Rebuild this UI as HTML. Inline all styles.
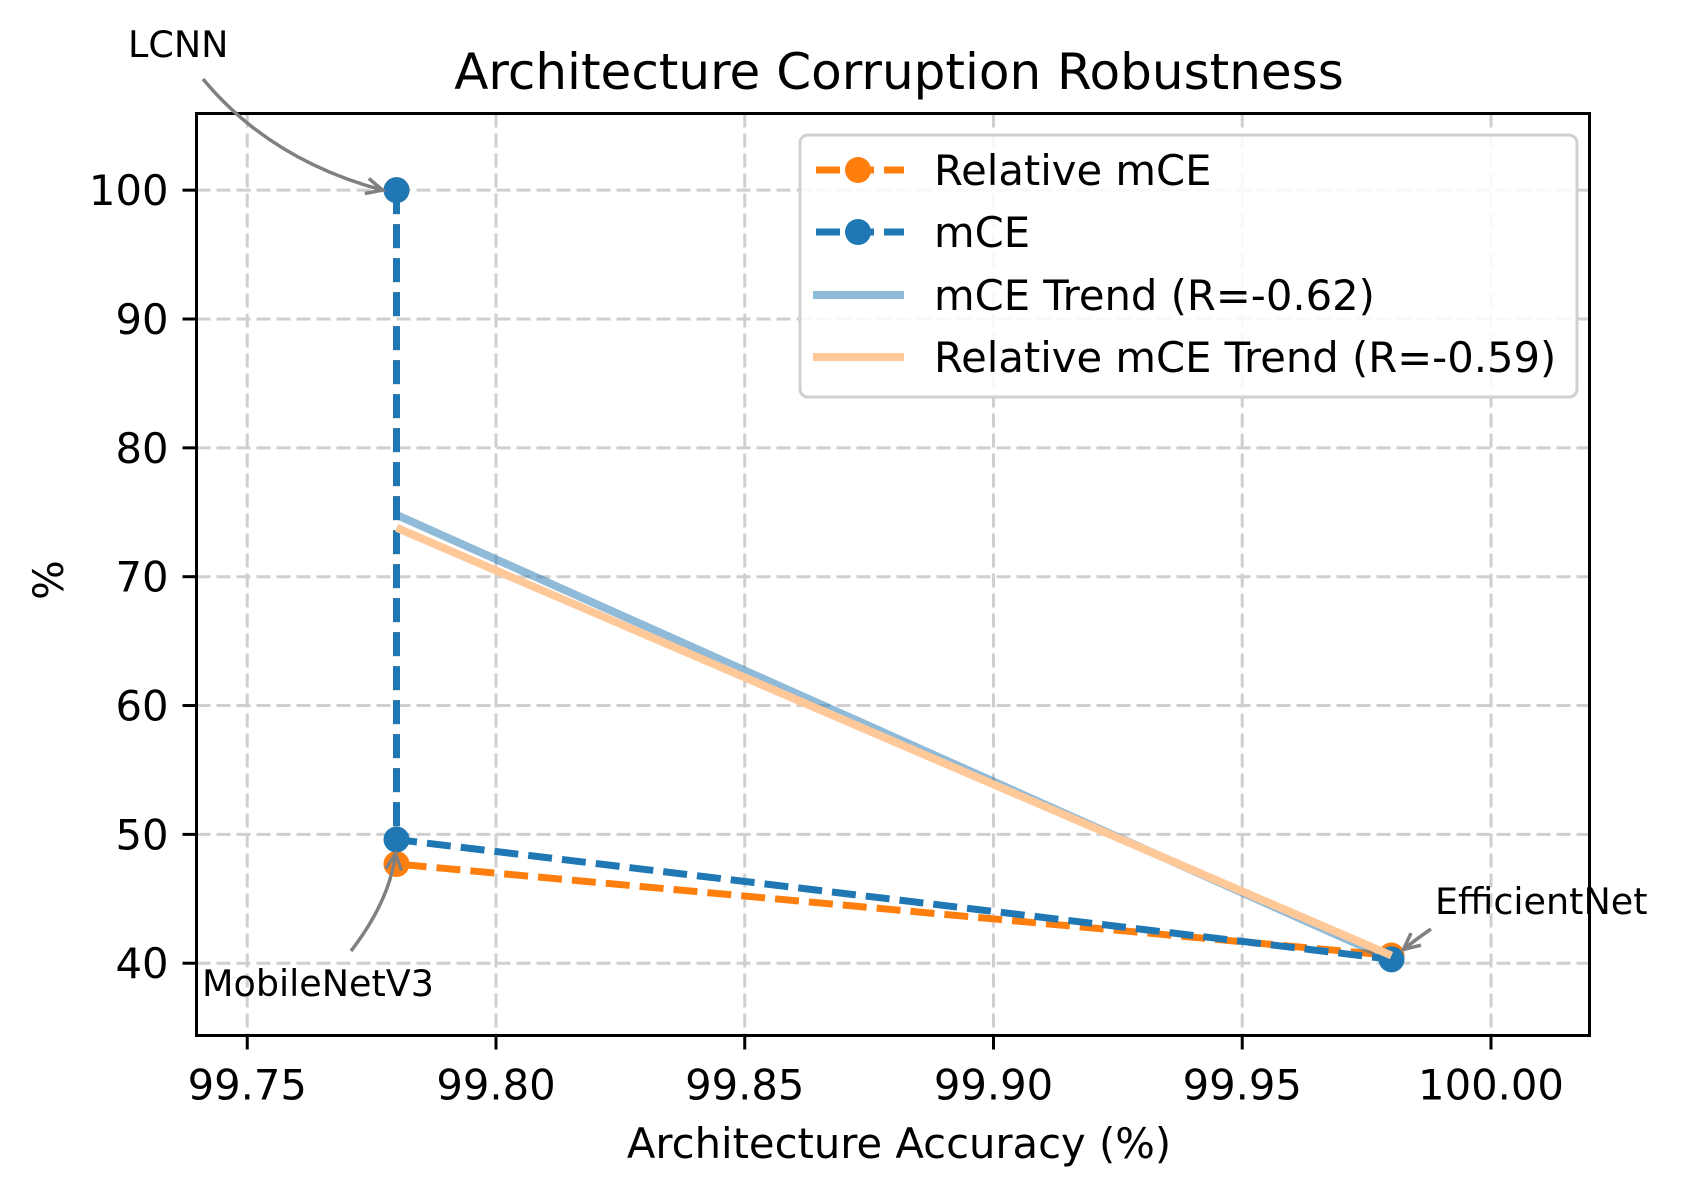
<!DOCTYPE html>
<html><head><meta charset="utf-8"><style>
html,body{margin:0;padding:0;background:#fff;}
svg{display:block;font-family:"DejaVu Sans","Liberation Sans",sans-serif;}
</style></head><body>
<svg id="chart" width="1683" height="1197" viewBox="0 0 1683 1197" xmlns="http://www.w3.org/2000/svg">
<rect width="1683" height="1197" fill="#fff"/>
<g id="grid"></g>
<g id="series"></g>
<rect x="196.5" y="113.5" width="1393" height="922" fill="none" stroke="#000" stroke-width="3"/>
<g id="ticks"></g>
<text x="899" y="89" font-size="50" text-anchor="middle">Architecture Corruption Robustness</text>
<text x="899" y="1158" font-size="41.7" text-anchor="middle">Architecture Accuracy (%)</text>
<text transform="translate(63,580) rotate(-90)" font-size="41.7" text-anchor="middle">%</text>
<g id="annotations"></g>
<g id="legend">
<rect x="800" y="135" width="777" height="262" rx="8" fill="#fff" fill-opacity="0.85" stroke="#d0d0d0" stroke-width="3"/>
<g>
<line x1="813" y1="170" x2="904" y2="170" stroke="#ff7f0e" stroke-width="7" stroke-dasharray="24,10" stroke-dashoffset="-3"/>
<circle cx="858" cy="170" r="13" fill="#ff7f0e"/>
<text x="934" y="185" font-size="41.7">Relative mCE</text></g>
<g>
<line x1="813" y1="232" x2="904" y2="232" stroke="#1f77b4" stroke-width="7" stroke-dasharray="24,10" stroke-dashoffset="-3"/>
<circle cx="858" cy="232" r="13" fill="#1f77b4"/>
<text x="934" y="247" font-size="41.7">mCE</text></g>
<g>
<line x1="813" y1="295" x2="904" y2="295" stroke="#8fbbda" stroke-width="8"/>
<text x="934" y="310" font-size="41.7">mCE Trend (R=-0.62)</text></g>
<g>
<line x1="813" y1="357" x2="904" y2="357" stroke="#ffc899" stroke-width="8"/>
<text x="934" y="372" font-size="41.7">Relative mCE Trend (R=-0.59)</text></g>
</g>
</svg>
<script>
const xCategories = [99.78, 99.78, 99.98];
const modelNames = ["LCNN", "MobileNetV3", "EfficientNet"];
const mceValues = [100, 49.6, 40.3];
const relMceValues = [100, 47.7, 40.6];
const trendX = [99.78, 99.98];
const mceTrend = [74.8, 40.3];
const relMceTrend = [73.8, 40.6];
const xTicks = [99.75, 99.80, 99.85, 99.90, 99.95, 100.00];
const xTickLabels = ["99.75", "99.80", "99.85", "99.90", "99.95", "100.00"];
const yTicks = [40, 50, 60, 70, 80, 90, 100];
const yTickLabels = ["40", "50", "60", "70", "80", "90", "100"];

const NS = "http://www.w3.org/2000/svg";
const L = 196.5, R = 1589.5, T = 113.5, B = 1035.5;
const X0 = 99.7398, X1 = 100.0198, Y0 = 34.39, Y1 = 105.95;
function sx(v){ return L + (v - X0) / (X1 - X0) * (R - L); }
function sy(v){ return B - (v - Y0) / (Y1 - Y0) * (B - T); }
function mk(tag, attrs, parent){ const e = document.createElementNS(NS, tag); for (const k in attrs) e.setAttribute(k, attrs[k]); parent.appendChild(e); return e; }

const grid = document.getElementById('grid');
const ticks = document.getElementById('ticks');
xTicks.forEach((v, i) => {
  const g = mk('line', {x1: sx(v), x2: sx(v), y1: T, y2: B, stroke: '#cfcfcf', 'stroke-width': 3, 'stroke-dasharray': '14,6'}, grid);
  
  
  const t = mk('line', {x1: sx(v), x2: sx(v), y1: B, y2: B + 14, stroke: '#000', 'stroke-width': 3}, ticks);
  
  
  const lb = mk('text', {x: sx(v), y: B + 64, 'font-size': 41.7, 'text-anchor': 'middle'}, ticks);
  lb.textContent = xTickLabels[i];
  
  
});
yTicks.forEach((v, i) => {
  const g = mk('line', {x1: L, x2: R, y1: sy(v), y2: sy(v), stroke: '#cfcfcf', 'stroke-width': 3, 'stroke-dasharray': '14,6'}, grid);
  
  
  const t = mk('line', {x1: L - 14, x2: L, y1: sy(v), y2: sy(v), stroke: '#000', 'stroke-width': 3}, ticks);
  
  
  const lb = mk('text', {x: L - 28, y: sy(v) + 15, 'font-size': 41.7, 'text-anchor': 'end'}, ticks);
  lb.textContent = yTickLabels[i];
  
  
});

const series = document.getElementById('series');
function pts(xs, ys){ return xs.map((x, i) => sx(x) + ',' + sy(ys[i])).join(' '); }
function dashedSeries(ys, color, name){
  const pl = mk('polyline', {points: pts(xCategories, ys), fill: 'none', stroke: color, 'stroke-width': 7, 'stroke-dasharray': '24,10'}, series);
  
  
  ys.forEach((y, i) => {
    const c = mk('circle', {cx: sx(xCategories[i]), cy: sy(y), r: 13, fill: color}, series);
    
    
  });
}
dashedSeries(relMceValues, '#ff7f0e', 'relative-mce');
dashedSeries(mceValues, '#1f77b4', 'mce');
const t1 = mk('polyline', {points: pts(trendX, mceTrend), fill: 'none', stroke: '#1f77b4', 'stroke-opacity': 0.5, 'stroke-width': 8}, series);


const t2 = mk('polyline', {points: pts(trendX, relMceTrend), fill: 'none', stroke: '#ffc899', 'stroke-width': 8}, series);



const ann = document.getElementById('annotations');
function arrow(x1, y1, cx, cy, x2, y2, name){
  const p = mk('path', {d: `M${x1},${y1} Q${cx},${cy} ${x2},${y2}`, fill: 'none', stroke: '#808080', 'stroke-width': 3.5}, ann);
  
  
  const ang = Math.atan2(y2 - cy, x2 - cx), s = 18, w = 0.45;
  const h = mk('path', {d: `M${x2 - s*Math.cos(ang - w)},${y2 - s*Math.sin(ang - w)} L${x2},${y2} L${x2 - s*Math.cos(ang + w)},${y2 - s*Math.sin(ang + w)}`, fill: 'none', stroke: '#808080', 'stroke-width': 3.5}, ann);
  
  
}
function label(x, y, txt, name){
  const t = mk('text', {x: x, y: y, 'font-size': 36.5, 'text-anchor': 'start'}, ann);
  t.textContent = txt;
  
  
}
const p0x = sx(xCategories[0]), p0y = sy(mceValues[0]);
arrow(203, 79, 270, 160, p0x - 14, p0y, 'lcnn');
label(128, 57, modelNames[0], 'lcnn-label');
const p1x = sx(xCategories[1]), p1y = sy(mceValues[1]);
arrow(351, 951, 390, 900, p1x - 1, p1y + 14, 'mobilenetv3');
label(202, 996, modelNames[1], 'mobilenetv3-label');
const p2x = sx(xCategories[2]), p2y = sy(relMceValues[2]);
arrow(1431, 929, 1415, 940, p2x + 12, p2y - 6, 'efficientnet');
label(1435, 914, modelNames[2], 'efficientnet-label');
</script>
</body></html>
